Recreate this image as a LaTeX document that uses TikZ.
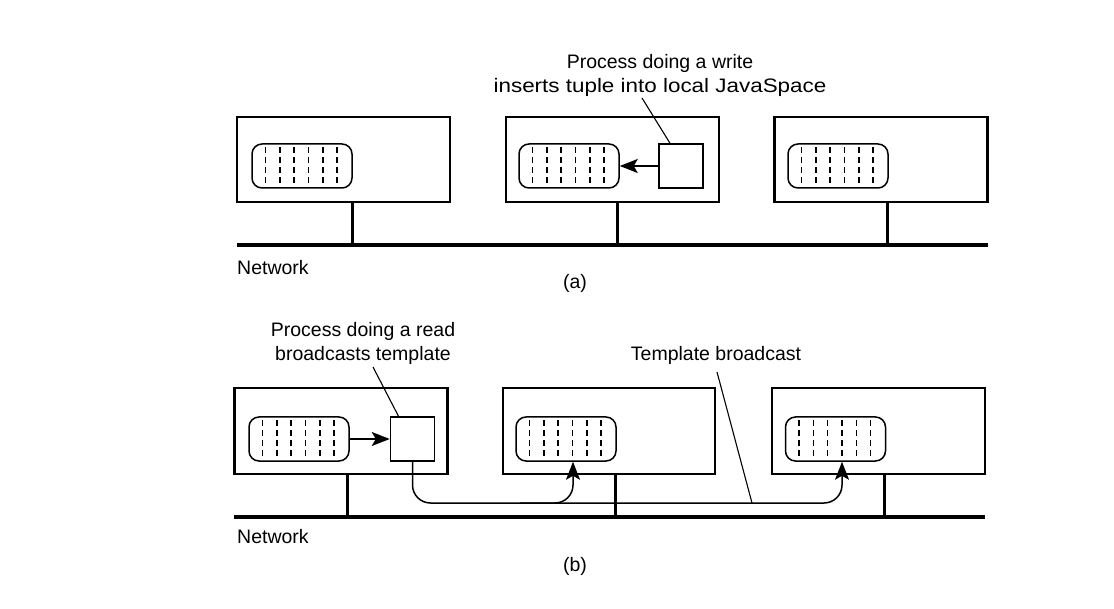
\documentclass[tikz,border=0pt]{standalone}
\usepackage{fontspec}
\setmainfont{Liberation Sans}
\usetikzlibrary{arrows.meta,calc}
\newcommand\tsdashes[1]{%
  \foreach \i in {1,...,6}{%
    \draw[tdash] ($(#1.north west)+(\i*14.3,4)$) -- ($(#1.south west)+(\i*14.3,-4)$);}}
\begin{document}
\begin{tikzpicture}[x=1pt,y=-1pt,
  machine/.style={draw,line width=2.4pt,minimum width=213pt,minimum height=85pt,inner sep=0pt},
  tspace/.style={draw,line width=1.5pt,rounded corners=10pt,minimum width=100pt,minimum height=44pt,inner sep=0pt},
  proc/.style={draw,line width=1.5pt,minimum width=44pt,minimum height=44pt,inner sep=0pt},
  tdash/.style={line width=1.5pt,dash pattern=on 6pt off 4pt},
  stem/.style={line width=3pt},
  net/.style={line width=4pt},
  lbl/.style={font=\fontsize{19.5}{24}\selectfont,inner sep=0pt,align=center},
  leader/.style={line width=1.1pt},
  tip/.style={-{Stealth[length=18pt,width=14pt,inset=4pt]}},
  arr/.style={line width=1.8pt,tip},
  bcast/.style={line width=1.5pt,rounded corners=18pt,tip}
]
\useasboundingbox (0,0) rectangle (1114,609);

% ---------- (a) ----------
\node[machine] (mA1) at (343.5,159.5) {};
\node[machine] (mA2) at (612.5,159.5) {};
\node[machine] (mA3) at (881,159.5) {};
\node[tspace] (tsA1) at (302,166) {};
\node[tspace] (tsA2) at (569,166) {};
\node[tspace] (tsA3) at (838,166) {};
\tsdashes{tsA1}\tsdashes{tsA2}\tsdashes{tsA3}
\node[proc] (procA) at (681,166) {};
\draw[arr] (procA.west) -- (tsA2.east);

\coordinate (netA0) at (237,245);
\coordinate (netA1) at (988,245);
\coordinate (sA1) at (352,245);
\coordinate (sA2) at (617,245);
\coordinate (sA3) at (887,245);
\draw[stem] (sA1 |- mA1.south) -- (sA1);
\draw[stem] (sA2 |- mA2.south) -- (sA2);
\draw[stem] (sA3 |- mA3.south) -- (sA3);
\draw[net] (netA0) -- (netA1);

\node[lbl] (txtA) at (660,75) {Process doing a write\\\scalebox{1.15}[1]{inserts tuple into local JavaSpace}};
\coordinate (ldA) at (642,98);
\draw[leader] (ldA) -- ($(procA.north)+(-11,0)$);

\node[lbl,anchor=west] (netLblA) at (237,268) {Network};
\node[lbl] (capA) at (575,283) {(a)};

% ---------- (b) ----------
\node[machine,minimum height=86pt] (mB1) at (341,431) {};
\node[machine,minimum height=86pt,minimum width=212pt] (mB2) at (609,431) {};
\node[machine,minimum height=86pt] (mB3) at (878.5,431) {};
\node[tspace] (tsB1) at (299,439) {};
\node[tspace] (tsB2) at (566,439) {};
\node[tspace] (tsB3) at (835.5,439) {};
\tsdashes{tsB1}\tsdashes{tsB2}\tsdashes{tsB3}
\node[proc] (procB) at (412.5,439) {};
\draw[arr] (tsB1.east) -- (procB.west);

\coordinate (netB0) at (234,517);
\coordinate (netB1) at (985,517);
\coordinate (sB1) at (347,517);
\coordinate (sB2) at (615,517);
\coordinate (sB3) at (884,517);
\draw[stem] (sB1 |- mB1.south) -- (sB1);
\draw[stem] (sB2 |- mB2.south) -- (sB2);
\draw[stem] (sB3 |- mB3.south) -- (sB3);
\draw[net] (netB0) -- (netB1);

\coordinate (bus) at (0,503);
\coordinate (tipR) at ($(tsB3.south)+(6.5,0)$);
\coordinate (tipM) at ($(tsB2.south)+(7,0)$);
\coordinate (brM) at ($(tsB2.south |- bus)+(-46,0)$);
\draw[bcast] (procB.south) |- (tipR |- bus) -- (tipR);
\draw[bcast] (brM) -| (tipM);

\node[lbl] (txtB) at (363,343) {Process doing a read\\broadcasts template};
\coordinate (ldB) at (373,367);
\draw[leader] (ldB) -- ($(procB.north)+(-14,0)$);

\node[lbl] (tmpl) at (716,355) {Template broadcast};
\coordinate (ldT) at (717,372);
\coordinate (ldTend) at (752,503);
\draw[leader] (ldT) -- (ldTend);

\node[lbl,anchor=west] (netLblB) at (237,537) {Network};
\node[lbl] (capB) at (575,566) {(b)};
\end{tikzpicture}
\end{document}
